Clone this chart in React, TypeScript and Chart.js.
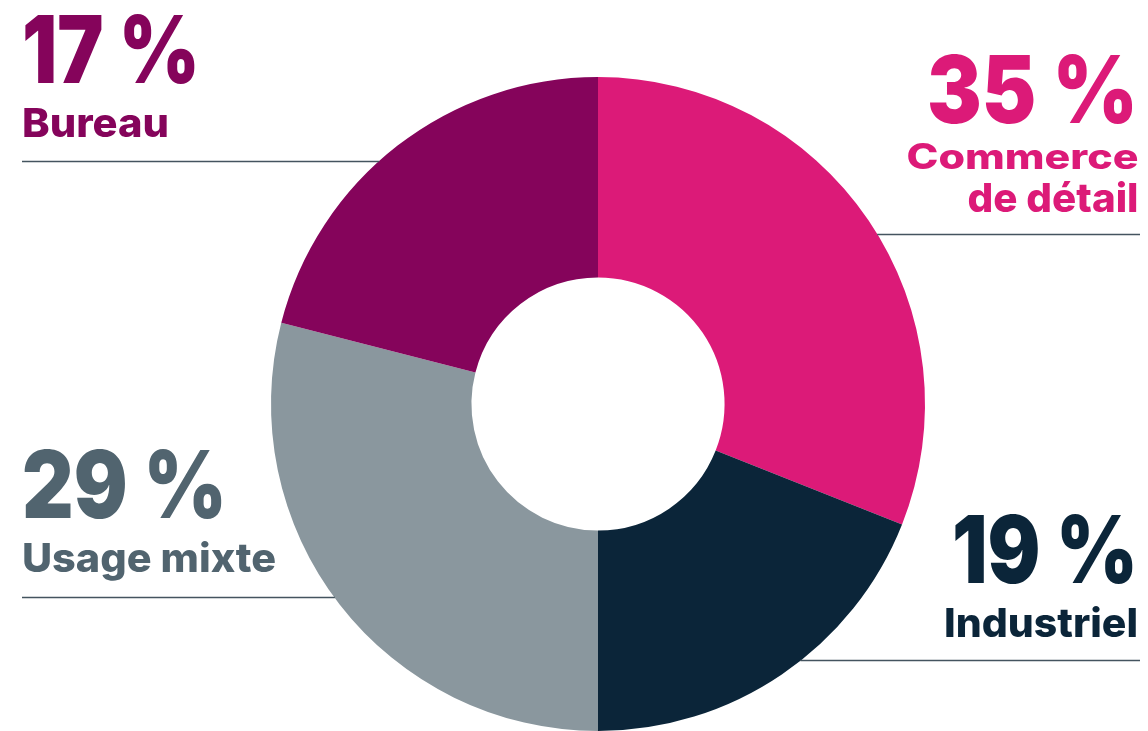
import React, { useEffect, useRef } from "react";
import { Chart, registerables } from "chart.js";

Chart.register(...registerables);

// ---- data ----
const categories = ["Commerce de détail", "Industriel", "Usage mixte", "Bureau"];
// shares as drawn by the arcs
const shares = [31, 19, 29, 21];
// percentage labels printed next to the chart
const percentLabels = ["35 %", "19 %", "29 %", "17 %"];
const colors = ["#DC1A78", "#0B2539", "#8A979E", "#85045B"];
const textColors = ["#DC1A78", "#0B2539", "#51646F", "#85045B"];

// ---- layout (decoration only) ----
const W = 1148;
const H = 731;
const FONT = "Inter, 'Open Sans', sans-serif";
const LINE_COLOR = "#44545F";

type Leader = { y: number; side: "left" | "right" };
const leaders: Leader[] = [
  { y: 234.5, side: "right" },
  { y: 660.5, side: "right" },
  { y: 597.5, side: "left" },
  { y: 161.5, side: "left" },
];

const leaderPlugin = {
  id: "leaders",
  afterDatasetsDraw(chart: any) {
    const meta = chart.getDatasetMeta(0);
    const arc = meta.data[0];
    if (!arc) return;
    const { x: cx, y: cy, outerRadius: r } = arc.getProps(["x", "y", "outerRadius"], true);
    const ctx = chart.ctx;
    ctx.save();
    ctx.strokeStyle = LINE_COLOR;
    ctx.lineWidth = 1.5;
    leaders.forEach((l) => {
      const dy = l.y - cy;
      const dx = Math.sqrt(Math.max(r * r - dy * dy, 0));
      ctx.beginPath();
      if (l.side === "left") {
        ctx.moveTo(22, l.y);
        ctx.lineTo(cx - dx + 0.5, l.y);
      } else {
        ctx.moveTo(cx + dx - 0.5, l.y);
        ctx.lineTo(1140, l.y);
      }
      ctx.stroke();
    });
    ctx.restore();
  },
};

type TextItem = {
  text: string;
  x: number;
  y: number;
  size: number;
  len: number;
  anchor: "start" | "end";
  color: string;
  weight: number;
};

const texts: TextItem[] = [
  { text: percentLabels[3], x: 22, y: 83.3, size: 93, len: 178, anchor: "start", color: textColors[3], weight: 900 },
  { text: categories[3], x: 22, y: 137, size: 40, len: 147, anchor: "start", color: textColors[3], weight: 800 },
  { text: percentLabels[0], x: 1138, y: 123.3, size: 93, len: 211, anchor: "end", color: textColors[0], weight: 900 },
  { text: "Commerce", x: 1138.5, y: 169, size: 35, len: 232, anchor: "end", color: textColors[0], weight: 800 },
  { text: "de détail", x: 1138.5, y: 211.7, size: 40, len: 171, anchor: "end", color: textColors[0], weight: 800 },
  { text: percentLabels[2], x: 22, y: 518.3, size: 93, len: 205, anchor: "start", color: textColors[2], weight: 900 },
  { text: categories[2], x: 22, y: 571.7, size: 40, len: 254, anchor: "start", color: textColors[2], weight: 800 },
  { text: percentLabels[1], x: 1138, y: 583.3, size: 93, len: 186, anchor: "end", color: textColors[1], weight: 900 },
  { text: categories[1], x: 1138, y: 636.7, size: 40, len: 194, anchor: "end", color: textColors[1], weight: 800 },
];

export default function App() {
  const ref = useRef<HTMLCanvasElement | null>(null);

  useEffect(() => {
    if (!ref.current) return;
    const chart = new Chart(ref.current, {
      type: "doughnut",
      data: {
        labels: categories,
        datasets: [
          {
            data: shares,
            backgroundColor: colors,
            borderWidth: 0,
            hoverOffset: 0,
          },
        ],
      },
      options: {
        responsive: false,
        animation: false,
        cutout: "38.7%",
        layout: { padding: { left: 271, top: 77, right: 223, bottom: 0 } },
        plugins: {
          legend: { display: false },
          tooltip: { enabled: false },
        },
      },
      plugins: [leaderPlugin],
    });
    return () => chart.destroy();
  }, []);

  return (
    <div
      style={{
        position: "fixed",
        left: 0,
        top: 0,
        width: W,
        height: H,
        background: "#ffffff",
        overflow: "hidden",
      }}
    >
      <canvas ref={ref} width={W} height={H} style={{ position: "absolute", left: 0, top: 0, width: W, height: H }} />
      <svg
        width={W}
        height={H}
        style={{ position: "absolute", left: 0, top: 0, pointerEvents: "none" }}
      >
        {texts.map((t, i) => (
          <text
            key={i}
            x={t.x}
            y={t.y}
            textAnchor={t.anchor}
            fill={t.color}
            fontFamily={FONT}
            fontWeight={t.weight}
            fontSize={t.size}
            textLength={t.len}
            lengthAdjust="spacingAndGlyphs"
          >
            {t.text}
          </text>
        ))}
      </svg>
    </div>
  );
}
